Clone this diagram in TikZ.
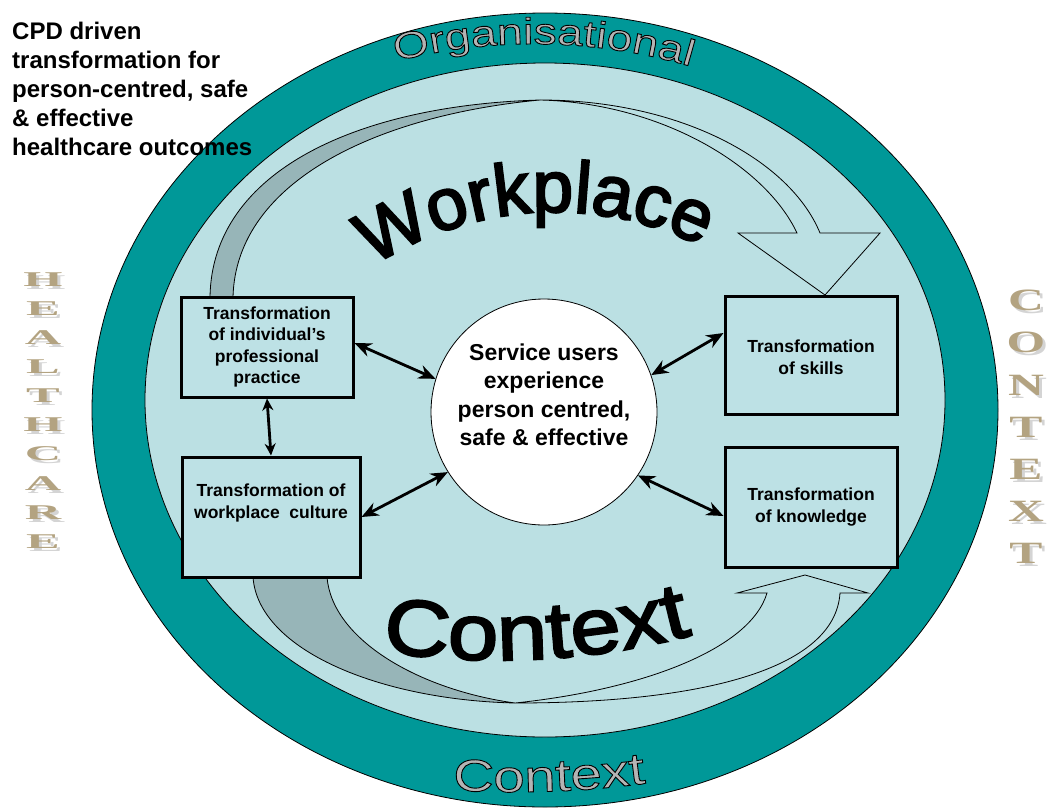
\documentclass[tikz,border=0pt]{standalone}
\usepackage{fontspec}
\usepackage{graphicx}
\setmainfont{Liberation Sans}
\newfontfamily\wideA[FakeStretch=1.15]{Liberation Sans}
\newfontfamily\wideB[FakeStretch=1.25]{Liberation Sans}
\newfontfamily\serifL[FakeStretch=2.4]{Liberation Serif}
\newfontfamily\serifR[FakeStretch=1.6]{Liberation Serif}
\usetikzlibrary{decorations.text,arrows.meta}
\definecolor{ring}{HTML}{009898}
\definecolor{innerbg}{HTML}{BBE0E3}
\definecolor{boxbg}{HTML}{BDE1E5}
\definecolor{bandgray}{HTML}{97B5B8}
\definecolor{tanc}{HTML}{B3A381}
\definecolor{shadowc}{HTML}{D4D4D4}
\definecolor{outlfill}{HTML}{B4B4B4}
\newcommand\outlinemode{\special{pdf:literal direct 0 0 0 RG 0.9 w 2 Tr}}
\newcommand\thickenmode{\special{pdf:literal direct 0 0 0 RG 2.2 w 2 Tr}}
\newcommand\shletter[1]{\makebox[0pt][l]{\hspace{3pt}\raisebox{-3pt}{\textcolor{shadowc}{#1}}}\textcolor{tanc}{#1}}
\tikzset{
  band/.style={draw=black, line width=0.8pt},
  tbox/.style={draw=black, line width=3pt, fill=boxbg, inner sep=0pt},
  tboxtext/.style={font=\fontsize{17.5}{21.5}\selectfont\bfseries, align=center, inner sep=0pt, text=black},
  dbl/.style={line width=2.8pt, {Stealth[length=17pt,width=14pt]}-{Stealth[length=17pt,width=14pt]}},
  dbls/.style={line width=2.8pt, {Stealth[length=12pt,width=11pt]}-{Stealth[length=12pt,width=11pt]}},
  lettL/.style={font=\serifL\bfseries\fontsize{21}{21}\selectfont, inner sep=0pt},
  lettR/.style={font=\serifR\bfseries\fontsize{31}{31}\selectfont, inner sep=0pt},
}
\begin{document}
\begin{tikzpicture}[x=1pt,y=-1pt]
\useasboundingbox (0,0) rectangle (1049,809);
% rings
\draw[fill=ring, line width=0.8pt] (545,410) ellipse [x radius=453, y radius=397];
\draw[fill=innerbg, line width=0.8pt] (545,400) ellipse [x radius=400, y radius=337];
% top curved arrow
\draw[band, fill=bandgray] (210,297) .. controls (212,170) and (360,105) .. (540,100)
   .. controls (380,115) and (236,180) .. (233,297) -- cycle;
\draw[band, fill=innerbg] (540,100) .. controls (680,100) and (790,160) .. (820,233)
   -- (880,233) -- (825,295) -- (738,233) -- (797,233)
   .. controls (765,165) and (660,103) .. (540,100) -- cycle;
% bottom curved arrow
\draw[band, fill=bandgray] (253,577) .. controls (258,650) and (380,700) .. (515,703)
   .. controls (420,690) and (332,640) .. (327,577) -- cycle;
\draw[band, fill=innerbg] (515,703) .. controls (700,703) and (835,670) .. (840,593)
   -- (868,593) -- (805,575) -- (737,593) -- (767,593)
   .. controls (750,650) and (640,690) .. (515,703) -- cycle;
% boxes
\node[tbox, minimum width=172pt, minimum height=100pt] (b1) at (267,347) {};
\node[tbox, minimum width=178pt, minimum height=120pt] (b2) at (271,517) {};
\node[tbox, minimum width=172pt, minimum height=118pt] (b3) at (811,355) {};
\node[tbox, minimum width=172pt, minimum height=120pt] (b4) at (811,507) {};
\node[tboxtext] (t1) at (267,347) {Transformation\\of individual's\\professional\\practice};
\node[tboxtext] (t2) at (271,503) {Transformation of\\workplace\ \ culture};
\node[tboxtext] (t3) at (811,357) {Transformation\\of skills};
\node[tboxtext] (t4) at (811,507) {Transformation\\of knowledge};
% centre circle
\node[circle, draw=black, line width=0.8pt, fill=white, minimum size=226pt, inner sep=0pt] (c) at (544,412) {};
\node[font=\fontsize{23}{28.5}\selectfont\bfseries, align=center, inner sep=0pt] (ct) at (544,395)
  {Service users\\experience\\person centred,\\safe \& effective};
% double arrows
\draw[dbl] ([yshift=4pt]b1.east) -- (c.163);
\draw[dbl] (b2.east) -- (c.212);
\draw[dbl] ([yshift=22pt]b3.west) -- (c.19);
\draw[dbl] ([yshift=-9pt]b4.west) -- (c.326);
\draw[dbls] (b1.south) -- (b2.north);
% title text
\node[anchor=north west, align=left, inner sep=0pt, font=\fontsize{24}{29}\selectfont\bfseries] (title) at (12,22)
  {CPD driven\\transformation for\\person-centred, safe\\\& effective\\healthcare outcomes};
% big curved words
\path[decorate, decoration={text along path, text align=center, text format delimiters={|}{|},
   text={|\fontsize{73}{73}\selectfont\thickenmode|Workplace}}]
   (555,543) ++(216:331) arc (216:317:331);
\path[decorate, decoration={text along path, text align=center, text format delimiters={|}{|},
   text={|\wideA\fontsize{79}{79}\selectfont\thickenmode|Context}}]
   (498,-105) ++(101:765) arc (101:73:765);
% side letters
\foreach \ch [count=\i] in {H,E,A,L,T,H,C,A,R,E} {
  \node[lettL] (h\i) at (43,{281+29.1*(\i-1)}) {\shletter{\ch}};
}
\foreach \ch [count=\i] in {C,O,N,T,E,X,T} {
  \node[lettR] (cx\i) at (1026,{302+42.2*(\i-1)}) {\shletter{\ch}};
}
% outlined ring words
\path[decorate, decoration={text along path, text align=center, text format delimiters={|}{|},
   text={|\wideB\fontsize{37}{37}\selectfont\color{outlfill}\outlinemode|Organisational}}]
   (534,602) ++(253:558) arc (253:289:558);
\path[decorate, decoration={text along path, text align=center, text format delimiters={|}{|},
   text={|\wideB\fontsize{45}{45}\selectfont\color{outlfill}\outlinemode|Context}}]
   (515,-200) ++(96:992) arc (96:80:992);
\end{tikzpicture}
\end{document}
